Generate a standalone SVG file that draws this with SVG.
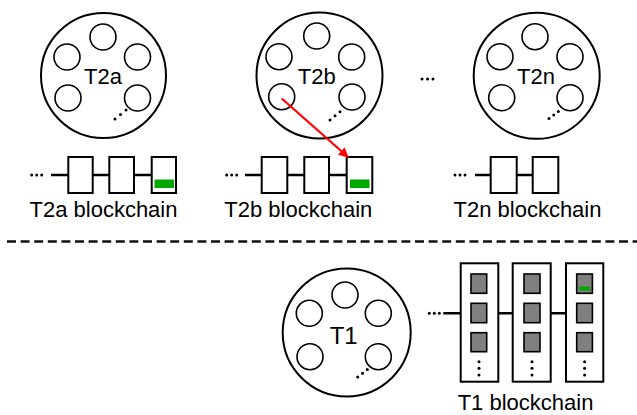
<svg xmlns="http://www.w3.org/2000/svg" width="637" height="415" viewBox="0 0 637 415">
<style>
.big{fill:#fff;stroke:#000;stroke-width:2}
.sm{fill:#fff;stroke:#000;stroke-width:1.6}
.dot{fill:#000}
.blk{fill:#fff;stroke:#000;stroke-width:2}
.grn{fill:#00a800;stroke:none}
.gry{fill:#808080;stroke:#000;stroke-width:1.6}
.ln{stroke:#000;stroke-width:2.5;fill:none}
.lbl{font-family:"Liberation Sans",Arial,sans-serif;font-size:22px;fill:#000;text-anchor:middle}
</style>
<defs>
<marker id="ah" markerWidth="10" markerHeight="10" refX="9" refY="5" orient="auto" markerUnits="userSpaceOnUse">
<path d="M0,0 L10,5 L0,10 z" fill="#ff0000"/>
</marker>
</defs>
<rect width="637" height="415" fill="#fff"/>

<g id="T2a">
<circle class="big" cx="103.5" cy="75.5" r="62.5"/>
<circle class="sm" cx="103" cy="37" r="13"/>
<circle class="sm" cx="67" cy="57" r="13"/>
<circle class="sm" cx="137.5" cy="57" r="13"/>
<circle class="sm" cx="68" cy="98" r="13"/>
<circle class="sm" cx="137.5" cy="98" r="13"/>
<circle class="dot" cx="115" cy="119" r="1.5"/><circle class="dot" cx="120.5" cy="114.5" r="1.5"/><circle class="dot" cx="126" cy="110" r="1.5"/>
<text class="lbl" x="103" y="84">T2a</text>
</g>

<g id="T2a-chain">
<circle class="dot" cx="31.7" cy="175" r="1.5"/><circle class="dot" cx="36.7" cy="175" r="1.5"/><circle class="dot" cx="41.7" cy="175" r="1.5"/>
<path class="ln" d="M51,175H68.3M92.7,175H109.3M134,175H151.7"/>
<rect class="blk" x="68.3" y="157" width="24.4" height="36"/>
<rect class="blk" x="109.3" y="157" width="24.7" height="36"/>
<rect class="blk" x="151.7" y="157" width="24.3" height="36"/>
<rect class="grn" x="154.5" y="179.5" width="19.5" height="8.5"/>
<text class="lbl" x="103.5" y="217">T2a blockchain</text>
</g>

<g id="T2b">
<circle class="big" cx="319.5" cy="75.5" r="63"/>
<circle class="sm" cx="316.7" cy="36" r="13"/>
<circle class="sm" cx="279" cy="56.7" r="13"/>
<circle class="sm" cx="351.7" cy="57" r="13"/>
<circle class="sm" cx="281.7" cy="96.7" r="13"/>
<circle class="sm" cx="352" cy="97" r="13"/>
<circle class="dot" cx="330" cy="120" r="1.5"/><circle class="dot" cx="335" cy="115.8" r="1.5"/><circle class="dot" cx="340" cy="111.7" r="1.5"/>
<text class="lbl" x="316.7" y="84">T2b</text>
</g>

<g id="T2b-chain">
<circle class="dot" cx="226.7" cy="175" r="1.5"/><circle class="dot" cx="231.7" cy="175" r="1.5"/><circle class="dot" cx="236.7" cy="175" r="1.5"/>
<path class="ln" d="M245,175H261.7M287.3,175H304.3M329,175H346.7"/>
<rect class="blk" x="261.7" y="157" width="25.6" height="36"/>
<rect class="blk" x="304.3" y="157" width="24.7" height="36"/>
<rect class="blk" x="346.7" y="157" width="25.6" height="36"/>
<rect class="grn" x="350" y="179.5" width="19.5" height="8.5"/>
<text class="lbl" x="298.3" y="217">T2b blockchain</text>
</g>

<g id="T2n">
<circle class="big" cx="536.7" cy="75.8" r="63"/>
<circle class="sm" cx="535" cy="36.7" r="13"/>
<circle class="sm" cx="500" cy="56.7" r="13"/>
<circle class="sm" cx="570" cy="56.7" r="13"/>
<circle class="sm" cx="501.7" cy="97.7" r="13"/>
<circle class="sm" cx="570" cy="97.7" r="13"/>
<circle class="dot" cx="549" cy="118.5" r="1.5"/><circle class="dot" cx="553.7" cy="115" r="1.5"/><circle class="dot" cx="558.3" cy="111.5" r="1.5"/>
<text class="lbl" x="536" y="84">T2n</text>
</g>

<g id="T2-ellipsis">
<circle class="dot" cx="422" cy="79" r="1.5"/><circle class="dot" cx="427.5" cy="79" r="1.5"/><circle class="dot" cx="433" cy="79" r="1.5"/>
</g>

<g id="T2n-chain">
<circle class="dot" cx="455" cy="175" r="1.5"/><circle class="dot" cx="460" cy="175" r="1.5"/><circle class="dot" cx="465" cy="175" r="1.5"/>
<path class="ln" d="M475,175H490.7M516.7,175H532.7"/>
<rect class="blk" x="490.7" y="157" width="26" height="36"/>
<rect class="blk" x="532.7" y="157" width="25.6" height="36"/>
<text class="lbl" x="527.5" y="217">T2n blockchain</text>
</g>

<g id="divider">
<line x1="7" y1="241.5" x2="637" y2="241.5" stroke="#111" stroke-width="2.5" stroke-dasharray="9,4.6"/>
</g>

<g id="T1">
<circle class="big" cx="346.7" cy="332.5" r="64"/>
<circle class="sm" cx="345" cy="295" r="13"/>
<circle class="sm" cx="309.3" cy="313.3" r="13"/>
<circle class="sm" cx="378.3" cy="313.3" r="13"/>
<circle class="sm" cx="310" cy="356.7" r="13"/>
<circle class="sm" cx="378.3" cy="356.7" r="13"/>
<circle class="dot" cx="357.7" cy="377" r="1.5"/><circle class="dot" cx="362.5" cy="373.3" r="1.5"/><circle class="dot" cx="367.3" cy="369.5" r="1.5"/>
<text class="lbl" x="343.7" y="344" style="font-size:24px">T1</text>
</g>

<g id="T1-chain">
<circle class="dot" cx="429.3" cy="313.3" r="1.5"/><circle class="dot" cx="434.3" cy="313.3" r="1.5"/><circle class="dot" cx="439.3" cy="313.3" r="1.5"/>
<path class="ln" d="M443.3,313.3H460.7M498.3,313.3H512.7M550.7,313.3H566"/>
<rect class="blk" x="460.7" y="263.3" width="37.6" height="118.4"/>
<rect class="blk" x="512.7" y="263.3" width="38" height="118.4"/>
<rect class="blk" x="566" y="263.3" width="37.3" height="118.4"/>
<rect class="gry" x="471" y="274" width="15.7" height="19.3"/>
<rect class="gry" x="471" y="303.3" width="15.7" height="19.4"/>
<rect class="gry" x="471" y="332.7" width="15.7" height="19"/>
<rect class="gry" x="524" y="274" width="16" height="19.3"/>
<rect class="gry" x="524" y="303.3" width="16" height="19.4"/>
<rect class="gry" x="524" y="332.7" width="16" height="19"/>
<rect class="gry" x="576.7" y="274" width="15.7" height="19.3"/>
<rect class="grn" x="579.3" y="286.5" width="10.8" height="4"/>
<rect class="gry" x="576.7" y="303.3" width="15.7" height="19.4"/>
<rect class="gry" x="576.7" y="332.7" width="15.7" height="19"/>
<circle class="dot" cx="479" cy="361.7" r="1.5"/><circle class="dot" cx="479" cy="368.3" r="1.5"/><circle class="dot" cx="479" cy="375" r="1.5"/>
<circle class="dot" cx="532" cy="361.7" r="1.5"/><circle class="dot" cx="532" cy="368.3" r="1.5"/><circle class="dot" cx="532" cy="375" r="1.5"/>
<circle class="dot" cx="584.6" cy="361.7" r="1.5"/><circle class="dot" cx="584.6" cy="368.3" r="1.5"/><circle class="dot" cx="584.6" cy="375" r="1.5"/>
<text class="lbl" x="525.5" y="410">T1 blockchain</text>
</g>

<g id="connectors">
<line x1="281.7" y1="98.5" x2="348" y2="157" stroke="#ff0000" stroke-width="2.2" marker-end="url(#ah)"/>
</g>
</svg>
